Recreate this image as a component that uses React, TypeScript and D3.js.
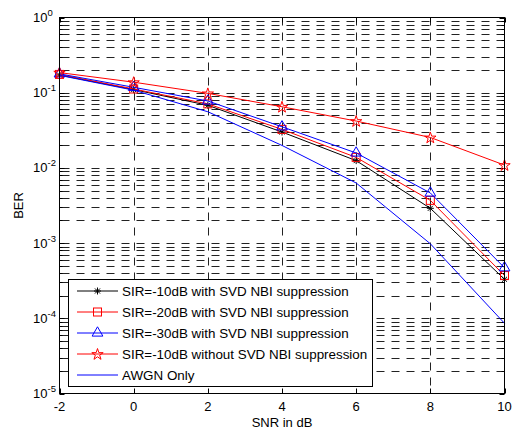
import React, { useRef, useEffect } from "react";
import * as d3 from "d3";

// SNR values (dB) on the x axis
const snr = [-2, 0, 2, 4, 6, 8, 10];
// BER curves
const sir10Svd = [0.172, 0.11, 0.068, 0.03, 0.0125, 0.0029, 0.00033];
const sir20Svd = [0.175, 0.112, 0.071, 0.0325, 0.0138, 0.0037, 0.00037];
const sir30Svd = [0.178, 0.118, 0.0776, 0.0352, 0.0158, 0.00464, 0.00047];
const sir10NoSvd = [0.185, 0.138, 0.098, 0.065, 0.042, 0.0254, 0.0109];
const awgnOnly = [0.17, 0.108, 0.0558, 0.0199, 0.0063, 0.00098, 0.0000858];

const xTicks = [-2, 0, 2, 4, 6, 8, 10];
const yExponents = [0, -1, -2, -3, -4, -5];

const legendLabels = [
  "SIR=-10dB with SVD NBI suppression",
  "SIR=-20dB with SVD NBI suppression",
  "SIR=-30dB with SVD NBI suppression",
  "SIR=-10dB without SVD NBI suppression",
  "AWGN Only",
];

export default function App() {
  const svgRef = useRef<SVGSVGElement>(null);

  useEffect(() => {
    const width = 520;
    const height = 431;
    const left = 59.5, right = 504.5, top = 17.5, bottom = 393.5;
    const font = "'Liberation Sans', Arial, sans-serif";

    const svg = d3.select(svgRef.current);
    svg.selectAll("*").remove();
    svg.attr("width", width).attr("height", height);

    svg.append("rect").attr("width", width).attr("height", height).attr("fill", "#fff");

    const x = d3.scaleLinear().domain([-2, 10]).range([left, right]);
    const y = d3.scaleLog().domain([1e-5, 1]).range([bottom, top]);

    const grid = svg.append("g")
      .attr("stroke", "#222")
      .attr("stroke-width", 1)
      .attr("stroke-dasharray", "8,7")
      .attr("fill", "none");

    // horizontal log grid
    const yGrid: number[] = [];
    for (let e = -5; e < 0; e++) {
      for (let m = 1; m <= 9; m++) {
        const v = m * Math.pow(10, e);
        if (e === -5 && m === 1) continue;
        yGrid.push(v);
      }
    }
    yGrid.forEach((v) => {
      const yy = Math.round(y(v)) + 0.5;
      grid.append("line").attr("x1", left + 2).attr("x2", right).attr("y1", yy).attr("y2", yy);
    });
    xTicks.slice(1, -1).forEach((t) => {
      const xx = Math.round(x(t)) + 0.5;
      grid.append("line").attr("x1", xx).attr("x2", xx).attr("y1", top).attr("y2", bottom);
    });

    // ticks
    const ticks = svg.append("g").attr("stroke", "#000").attr("stroke-width", 1);
    xTicks.forEach((t) => {
      const xx = Math.round(x(t)) + 0.5;
      ticks.append("line").attr("x1", xx).attr("x2", xx).attr("y1", bottom).attr("y2", bottom - 5);
      ticks.append("line").attr("x1", xx).attr("x2", xx).attr("y1", top).attr("y2", top + 5);
    });
    yGrid.concat([1e-5, 1]).forEach((v) => {
      const yy = Math.round(y(v)) + 0.5;
      const major = Math.abs(Math.log10(v) - Math.round(Math.log10(v))) < 1e-9;
      const len = major ? 5 : 3;
      ticks.append("line").attr("x1", left).attr("x2", left + len).attr("y1", yy).attr("y2", yy);
      ticks.append("line").attr("x1", right).attr("x2", right - len).attr("y1", yy).attr("y2", yy);
    });

    // series
    const series = [
      { values: sir10Svd, color: "#000", marker: "asterisk" },
      { values: sir20Svd, color: "#f00", marker: "square" },
      { values: sir30Svd, color: "#00f", marker: "triangle" },
      { values: sir10NoSvd, color: "#f00", marker: "star" },
      { values: awgnOnly, color: "#00f", marker: "none" },
    ];

    const line = d3.line<number>()
      .x((_, i) => x(snr[i]))
      .y((d) => y(d));

    const drawMarker = (g: any, kind: string, cx: number, cy: number, color: string) => {
      if (kind === "asterisk") {
        const r = 3.5;
        const p = d3.path();
        p.moveTo(cx - r, cy); p.lineTo(cx + r, cy);
        p.moveTo(cx, cy - r); p.lineTo(cx, cy + r);
        const d = r * 0.72;
        p.moveTo(cx - d, cy - d); p.lineTo(cx + d, cy + d);
        p.moveTo(cx - d, cy + d); p.lineTo(cx + d, cy - d);
        g.append("path").attr("d", p.toString()).attr("stroke", color).attr("fill", "none").attr("stroke-width", 1);
      } else if (kind === "square") {
        g.append("rect").attr("x", cx - 4).attr("y", cy - 4).attr("width", 8).attr("height", 8)
          .attr("stroke", color).attr("fill", "none").attr("stroke-width", 1);
      } else if (kind === "triangle") {
        g.append("path").attr("d", d3.symbol(d3.symbolTriangle, 50)())
          .attr("transform", `translate(${cx},${cy})`)
          .attr("stroke", color).attr("fill", "none").attr("stroke-width", 1);
      } else if (kind === "star") {
        g.append("path").attr("d", d3.symbol(d3.symbolStar, 40)())
          .attr("transform", `translate(${cx},${cy + 0.5})`)
          .attr("stroke", color).attr("fill", "none").attr("stroke-width", 1);
      }
    };

    series.forEach((s) => {
      const g = svg.append("g");
      g.append("path").attr("d", line(s.values)).attr("stroke", s.color).attr("fill", "none").attr("stroke-width", 1);
      s.values.forEach((v, i) => drawMarker(g, s.marker, x(snr[i]), y(v), s.color));
    });

    // axes box
    svg.append("rect").attr("x", left).attr("y", top).attr("width", right - left).attr("height", bottom - top)
      .attr("fill", "none").attr("stroke", "#000").attr("stroke-width", 1);

    // tick labels
    const labels = svg.append("g").attr("font-family", font).attr("font-size", 13).attr("fill", "#000");
    xTicks.forEach((t) => {
      labels.append("text").attr("x", x(t)).attr("y", bottom + 17.5).attr("text-anchor", "middle").text(String(t));
    });
    yExponents.forEach((e) => {
      const yy = y(Math.pow(10, e));
      const txt = labels.append("text").attr("x", 33).attr("y", yy + 4.5);
      txt.append("tspan").text("10");
      txt.append("tspan").attr("font-size", 9.5).attr("dy", -6).text(String(e));
    });

    labels.append("text").attr("x", (left + right) / 2).attr("y", 427).attr("text-anchor", "middle").text("SNR in dB");
    labels.append("text").attr("transform", `translate(23,${(top + bottom) / 2}) rotate(-90)`)
      .attr("text-anchor", "middle").text("BER");

    // legend
    const lg = svg.append("g");
    lg.append("rect").attr("x", 68.5).attr("y", 279.5).attr("width", 304).attr("height", 107)
      .attr("fill", "#fff").attr("stroke", "#000").attr("stroke-width", 1);
    series.forEach((s, i) => {
      const cy = 291 + i * 21;
      lg.append("line").attr("x1", 77).attr("x2", 118).attr("y1", cy).attr("y2", cy)
        .attr("stroke", s.color).attr("stroke-width", 1);
      drawMarker(lg, s.marker, 97.5, cy, s.color);
      lg.append("text").attr("x", 122).attr("y", cy + 4.5)
        .attr("font-family", font).attr("font-size", 13.4).text(legendLabels[i]);
    });
  }, []);

  return <svg ref={svgRef} style={{ display: "block", position: "absolute", left: 0, top: 0 }}></svg>;
}
